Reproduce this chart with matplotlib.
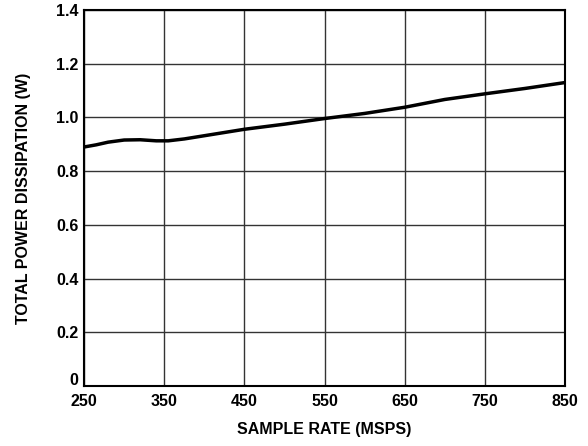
import numpy as np
import matplotlib.pyplot as plt
from matplotlib.transforms import ScaledTranslation

plt.rcParams['font.family'] = ['Liberation Sans', 'DejaVu Sans']
plt.rcParams['font.weight'] = 'bold'

sample_rate = [250, 265, 280, 300, 320, 340, 355, 375, 400, 450, 500, 550, 600, 650, 700, 750, 800, 850]
power = [0.890, 0.898, 0.908, 0.916, 0.917, 0.913, 0.913, 0.920, 0.932, 0.956, 0.975, 0.996, 1.015, 1.038, 1.067, 1.088, 1.108, 1.130]

fig = plt.figure(figsize=(5.88, 4.46), dpi=100)
ax = fig.add_axes([0.143, 0.1345, 0.818, 0.843])

ax.plot(sample_rate, power, color='black', lw=2.5, solid_capstyle='butt')

ax.set_xlim(250, 850)
ax.set_ylim(0, 1.4)
ax.set_xticks(np.arange(250, 851, 100))
ax.set_yticks([0, 0.2, 0.4, 0.6, 0.8, 1.0, 1.2, 1.4])
ax.set_yticklabels(['0', '0.2', '0.4', '0.6', '0.8', '1.0', '1.2', '1.4'])
ax.grid(True, color='#333333', lw=1.0)
ax.tick_params(length=0, labelsize=11.5)
ax.tick_params(axis='x', pad=6)
ax.tick_params(axis='y', pad=4)
for s in ax.spines.values():
    s.set_linewidth(1.5)

# lift the "0" label a little, as in the original
zero = ax.get_yticklabels()[0]
zero.set_transform(zero.get_transform() + ScaledTranslation(0, 5 / 72, fig.dpi_scale_trans))

ax.set_xlabel('SAMPLE RATE (MSPS)', fontsize=11.5, fontweight='bold', labelpad=9)
ax.set_ylabel('TOTAL POWER DISSIPATION (W)', fontsize=11.5, fontweight='bold', labelpad=18)

fig.savefig('out.png', dpi=100)
